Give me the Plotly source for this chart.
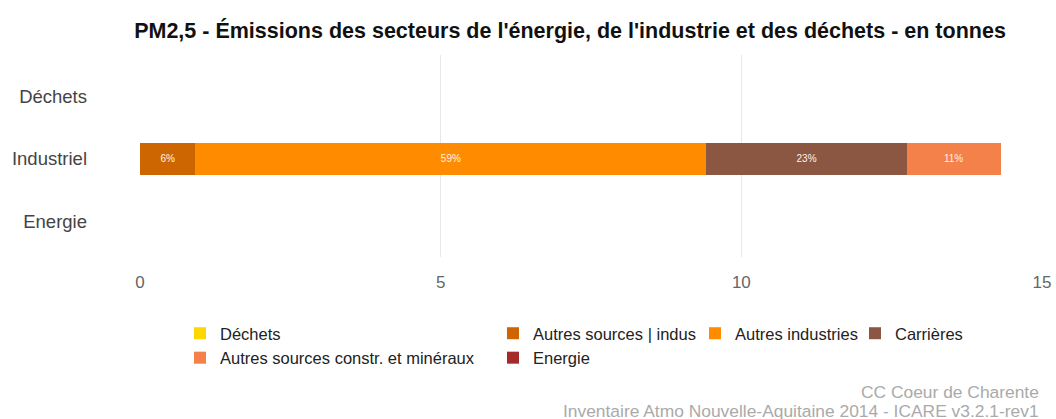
import plotly.graph_objects as go

# Sectors on the vertical axis (bottom to top)
sectors = ["Energie", "Industriel", "Déchets"]

# Emission sources and their PM2,5 emissions (tonnes) per sector
sources = [
    "Déchets",
    "Autres sources | indus",
    "Autres industries",
    "Carrières",
    "Autres sources constr. et minéraux",
    "Energie",
]
dechets_vals = [0, 0, 0]
autres_indus_vals = [0, 0.92, 0]
autres_industries_vals = [0, 8.50, 0]
carrieres_vals = [0, 3.33, 0]
autres_constr_vals = [0, 1.56, 0]
energie_vals = [0, 0, 0]

colors = ["#FFD700", "#CD6600", "#FF8C00", "#8B5742", "#F4804A", "#A52A2A"]

x_ticks = [0, 5, 10, 15]

series = [dechets_vals, autres_indus_vals, autres_industries_vals,
          carrieres_vals, autres_constr_vals, energie_vals]

totals = [sum(s[i] for s in series) for i in range(len(sectors))]

# legend columns: each source assigned to a legend block
legend_of = ["legend", "legend2", "legend3", "legend4", "legend", "legend2"]

fig = go.Figure()
for name, vals, col, lg in zip(sources, series, colors, legend_of):
    labels = []
    for v, t in zip(vals, totals):
        labels.append(f"{round(100 * v / t)}%" if v > 0 and t > 0 else "")
    fig.add_trace(go.Bar(
        y=sectors, x=vals, name=name, orientation="h",
        marker=dict(color=col, line=dict(width=0)),
        text=labels, textposition="inside", insidetextanchor="middle",
        textangle=0, constraintext="none",
        textfont=dict(family="Liberation Sans", size=10, color="#FFF3E6"),
        width=0.51, legend=lg,
        hoverinfo="x+y+name",
    ))

# plot area in pixels
W, H = 1056, 419
plot_left, plot_right = 140, 1042
plot_top, plot_bottom = 55, 257


def paper_x(px):
    return (px - plot_left) / (plot_right - plot_left)


def paper_y(px):
    return (plot_bottom - px) / (plot_bottom - plot_top)


legend_common = dict(
    orientation="v", yanchor="top", y=paper_y(316), xanchor="left",
    traceorder="normal",
    font=dict(family="Liberation Sans", size=16.5, color="#222222"),
    bgcolor="rgba(0,0,0,0)", tracegroupgap=0, itemwidth=30,
)

caption_font = dict(family="Liberation Sans", size=17.4, color="#AAAAAA")

fig.update_layout(
    width=W, height=H,
    barmode="stack",
    plot_bgcolor="white", paper_bgcolor="white",
    margin=dict(l=plot_left, r=W - plot_right, t=plot_top, b=H - plot_bottom,
                autoexpand=False),
    title=dict(
        text="PM2,5 - Émissions des secteurs de l'énergie, de l'industrie et des déchets - en tonnes",
        x=570 / W, xanchor="center", y=0.928, yanchor="middle",
        font=dict(family="Liberation Sans", size=21.5, color="#111111", weight="bold"),
    ),
    xaxis=dict(
        range=[0, 15], tickvals=x_ticks, showgrid=True, gridcolor="#E8E8E8",
        gridwidth=1, zeroline=False, showline=False, ticks="", automargin=False,
        tickfont=dict(family="Liberation Sans", size=17, color="#666666"),
        ticklabelstandoff=13,
    ),
    yaxis=dict(
        categoryorder="array", categoryarray=sectors, showgrid=False,
        zeroline=False, showline=False, ticks="", automargin=False,
        tickfont=dict(family="Liberation Sans", size=18.5, color="#444444"),
        ticklabelstandoff=52, range=[-0.57, 2.66],
    ),
    showlegend=True,
    legend=dict(legend_common, x=paper_x(180)),
    legend2=dict(legend_common, x=paper_x(493)),
    legend3=dict(legend_common, x=paper_x(695)),
    legend4=dict(legend_common, x=paper_x(855)),
    annotations=[
        dict(text="CC Coeur de Charente",
             xref="paper", yref="paper", x=paper_x(1041), y=paper_y(392),
             xanchor="right", yanchor="middle", showarrow=False, font=caption_font),
        dict(text="Inventaire Atmo Nouvelle-Aquitaine 2014 - ICARE v3.2.1-rev1",
             xref="paper", yref="paper", x=paper_x(1041), y=paper_y(411),
             xanchor="right", yanchor="middle", showarrow=False, font=caption_font),
    ],
)

fig.write_html("out.html")
